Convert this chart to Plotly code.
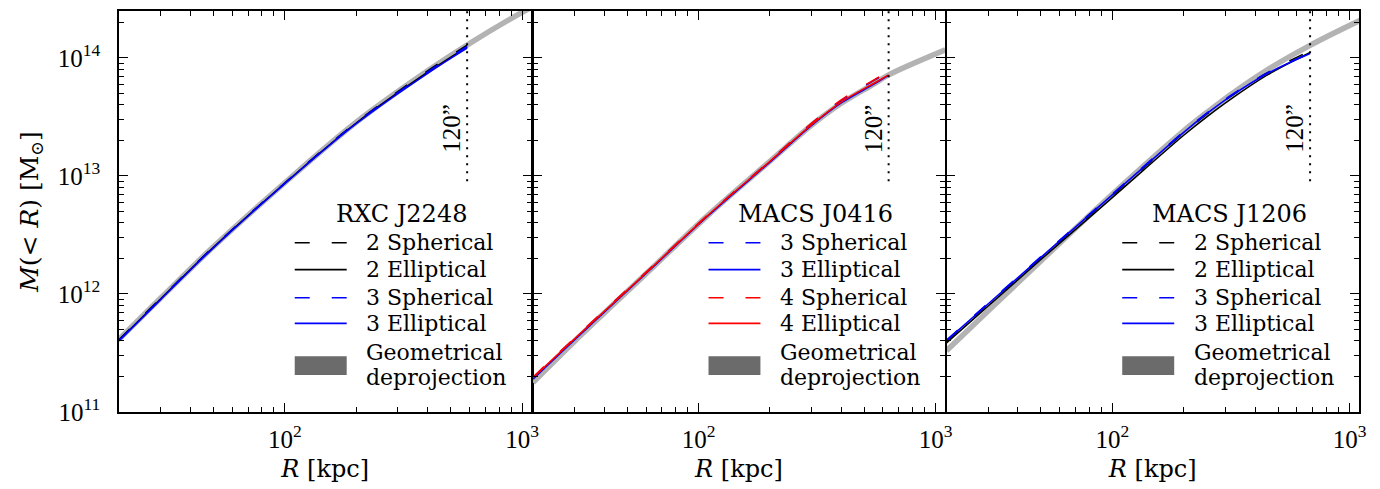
import numpy as np
import plotly.graph_objects as go

# ---------------- data ----------------
clusters = ["RXC J2248", "MACS J0416", "MACS J1206"]
r120 = [587, 634, 682]          # kpc, radius of 120 arcsec
r120_label = "120”"

# Panel 1 : RXC J2248
R1_geo = [20, 30, 50, 100, 200, 400, 600, 1000, 1100]
M1_geo = [4.12e11, 9.23e11, 2.51e12, 8.75e12, 2.85e13, 7.76e13, 1.32e14, 2.43e14, 2.69e14]
R1_mod = [20, 30, 50, 100, 200, 400, 587]
M1_2sph = [4.10e11, 9.20e11, 2.50e12, 8.70e12, 2.84e13, 7.75e13, 1.28e14]
M1_2ell = [4.05e11, 9.10e11, 2.48e12, 8.65e12, 2.80e13, 7.55e13, 1.24e14]
M1_3sph = [4.05e11, 9.10e11, 2.49e12, 8.70e12, 2.81e13, 7.60e13, 1.25e14]
M1_3ell = [4.00e11, 9.00e11, 2.46e12, 8.60e12, 2.77e13, 7.40e13, 1.21e14]

# Panel 2 : MACS J0416
R2_geo = [20, 30, 60, 110, 200, 300, 400, 550, 634, 1100]
M2_geo = [1.78e11, 3.98e11, 1.48e12, 4.68e12, 1.33e13, 2.69e13, 4.12e13, 6.03e13, 7.18e13, 1.17e14]
R2_mod = [20, 30, 60, 110, 200, 300, 400, 550, 634]
M2_3sph = [1.95e11, 4.20e11, 1.52e12, 4.70e12, 1.34e13, 2.78e13, 4.35e13, 6.45e13, 7.55e13]
M2_3ell = [1.90e11, 4.10e11, 1.49e12, 4.62e12, 1.31e13, 2.68e13, 4.15e13, 6.00e13, 7.10e13]
M2_4sph = [1.98e11, 4.25e11, 1.53e12, 4.72e12, 1.34e13, 2.80e13, 4.40e13, 6.50e13, 7.60e13]
M2_4ell = [1.95e11, 4.19e11, 1.51e12, 4.68e12, 1.33e13, 2.72e13, 4.22e13, 6.10e13, 7.18e13]

# Panel 3 : MACS J1206
R3_geo = [20, 30, 50, 100, 200, 251, 316, 447, 682, 1110]
M3_geo = [3.31e11, 7.19e11, 1.905e12, 7.00e12, 2.41e13, 3.46e13, 4.90e13, 7.85e13, 1.276e14, 2.08e14]
R3_mod = [20, 30, 50, 100, 200, 251, 316, 447, 682]
M3_2sph = [3.98e11, 8.22e11, 2.02e12, 6.84e12, 2.32e13, 3.35e13, 4.73e13, 7.41e13, 1.148e14]
M3_2ell = [3.85e11, 7.94e11, 1.96e12, 6.55e12, 2.21e13, 3.18e13, 4.47e13, 7.10e13, 1.109e14]
M3_3sph = [4.07e11, 8.36e11, 2.07e12, 7.00e12, 2.37e13, 3.42e13, 4.80e13, 7.40e13, 1.096e14]
M3_3ell = [4.03e11, 8.26e11, 2.04e12, 6.92e12, 2.34e13, 3.38e13, 4.74e13, 7.31e13, 1.087e14]

x_tickvals = [100, 1000]
x_ticktext = ["10<sup>2</sup>", "10<sup>3</sup>"]
y_tickvals = [1e11, 1e12, 1e13, 1e14]
y_ticktext = ["10<sup>11</sup>", "10<sup>12</sup>", "10<sup>13</sup>", "10<sup>14</sup>"]
dotted_span = [9e12, 3e14]

# ---------------- style ----------------
NUM_FONT = "Liberation Serif"
TXT_FONT = "DejaVu Serif"
GEO_COLOR = "#b3b3b3"
PATCH_COLOR = "#6b6b6b"
DASH = "15px,22px"

panels = [
    dict(R_geo=R1_geo, M_geo=M1_geo, R_mod=R1_mod,
         series=[("2 Spherical", "black", DASH, M1_2sph),
                 ("2 Elliptical", "black", "solid", M1_2ell),
                 ("3 Spherical", "blue", DASH, M1_3sph),
                 ("3 Elliptical", "blue", "solid", M1_3ell)]),
    dict(R_geo=R2_geo, M_geo=M2_geo, R_mod=R2_mod,
         series=[("3 Spherical", "blue", DASH, M2_3sph),
                 ("3 Elliptical", "blue", "solid", M2_3ell),
                 ("4 Spherical", "red", DASH, M2_4sph),
                 ("4 Elliptical", "red", "solid", M2_4ell)]),
    dict(R_geo=R3_geo, M_geo=M3_geo, R_mod=R3_mod,
         series=[("2 Spherical", "black", DASH, M3_2sph),
                 ("2 Elliptical", "black", "solid", M3_2ell),
                 ("3 Spherical", "blue", DASH, M3_3sph),
                 ("3 Elliptical", "blue", "solid", M3_3ell)]),
]

# page body adds an 8px offset, compensate in the margins
W, H = 1372, 481
ML, MR, MT, MB = 111, 21, 1, 77
PW = W - ML - MR   # 1240
domains = [[0.0, 412.5 / PW], [414.0 / PW, 826.0 / PW], [827.5 / PW, 1.0]]

fig = go.Figure()
shapes = []
annotations = []

x_minor = [v * d for d in (10, 100, 1000) for v in range(2, 10)]
y_minor = [v * d for d in (1e11, 1e12, 1e13, 1e14) for v in range(2, 10)]

# legend geometry (fractions of each panel's domain)
sym_x0, sym_x1, txt_x, title_x = 0.426, 0.552, 0.594, 0.686
title_y = 0.494
row_y = [0.422, 0.355, 0.285, 0.221]
geo_y0, geo_y1 = 0.092, 0.139
geo_txt_y = [0.149, 0.087]
LEG_SIZE = 22

for i, p in enumerate(panels):
    n = "" if i == 0 else str(i + 1)
    xa, ya = "x" + n, "y" + n
    # geometrical deprojection
    fig.add_trace(go.Scatter(x=p["R_geo"], y=p["M_geo"], mode="lines",
                             line=dict(color=GEO_COLOR, width=5.5, shape="spline"),
                             xaxis=xa, yaxis=ya, name="Geometrical deprojection",
                             showlegend=False, hoverinfo="skip"))
    for name, col, dash, vals in p["series"]:
        fig.add_trace(go.Scatter(x=p["R_mod"], y=vals, mode="lines",
                                 line=dict(color=col, width=1.6, dash=dash, shape="spline"),
                                 xaxis=xa, yaxis=ya, name=name, showlegend=False))
    # 120" line
    fig.add_trace(go.Scatter(x=[r120[i], r120[i]], y=dotted_span, mode="lines",
                             line=dict(color="black", width=2, dash="2px,6px"),
                             xaxis=xa, yaxis=ya, showlegend=False, hoverinfo="skip"))
    annotations.append(dict(x=np.log10(r120[i]), y=13.40, xref=xa, yref=ya,
                            text=r120_label, textangle=-90, showarrow=False,
                            xshift=-15, font=dict(family=NUM_FONT, size=25, color="black")))
    # manual legend
    xd, yd = xa + " domain", ya + " domain"
    annotations.append(dict(x=title_x, y=title_y, xref=xd, yref=yd, text=clusters[i],
                            showarrow=False, xanchor="center", yanchor="middle",
                            font=dict(family=TXT_FONT, size=24, color="black")))
    for (name, col, dash, vals), ry in zip(p["series"], row_y):
        shapes.append(dict(type="line", xref=xd, yref=yd, x0=sym_x0, x1=sym_x1,
                           y0=ry, y1=ry, line=dict(color=col, width=1.6, dash=dash)))
        annotations.append(dict(x=txt_x, y=ry, xref=xd, yref=yd, text=name,
                                showarrow=False, xanchor="left", yanchor="middle",
                                font=dict(family=TXT_FONT, size=LEG_SIZE, color="black")))
    shapes.append(dict(type="rect", xref=xd, yref=yd, x0=sym_x0, x1=sym_x1,
                       y0=geo_y0, y1=geo_y1, fillcolor=PATCH_COLOR, line=dict(width=0)))
    for txt, ty in zip(["Geometrical", "deprojection"], geo_txt_y):
        annotations.append(dict(x=txt_x, y=ty, xref=xd, yref=yd, text=txt,
                                showarrow=False, xanchor="left", yanchor="middle",
                                font=dict(family=TXT_FONT, size=LEG_SIZE, color="black")))

    common = dict(showline=True, linecolor="black", linewidth=1.5, mirror="allticks",
                  ticks="inside", ticklen=9, tickwidth=1.2, tickcolor="black",
                  showgrid=False, zeroline=False,
                  tickfont=dict(family=NUM_FONT, size=25, color="black"))
    fig.update_layout(**{
        ("xaxis" + n): dict(type="log", range=[1.301, 3.04], domain=domains[i],
                            anchor=ya, tickmode="array", tickvals=x_tickvals,
                            ticktext=x_ticktext, ticklabelstandoff=4,
                            minor=dict(tickmode="array", tickvals=x_minor, ticks="inside",
                                       ticklen=5, tickwidth=1.2, tickcolor="black"),
                            title=dict(text="<i>R</i> [kpc]", standoff=8,
                                       font=dict(family=TXT_FONT, size=24, color="black")),
                            **common),
        ("yaxis" + n): dict(type="log", range=[11, 14.397], domain=[0, 1],
                            anchor=xa, tickmode="array", tickvals=y_tickvals,
                            ticktext=y_ticktext, showticklabels=(i == 0),
                            ticklabelstandoff=12,
                            minor=dict(tickmode="array", tickvals=y_minor, ticks="inside",
                                       ticklen=5, tickwidth=1.2, tickcolor="black"),
                            title=dict(text=("<i>M</i>(&lt; <i>R</i>) [M<sub>⊙</sub>]" if i == 0 else ""),
                                       standoff=12,
                                       font=dict(family=TXT_FONT, size=25, color="black")),
                            **common),
    })

fig.update_layout(width=W, height=H, margin=dict(l=ML, r=MR, t=MT, b=MB),
                  paper_bgcolor="white", plot_bgcolor="white", showlegend=False,
                  shapes=shapes, annotations=annotations,
                  font=dict(family=TXT_FONT, size=24, color="black"))

fig.write_html("out.html")
